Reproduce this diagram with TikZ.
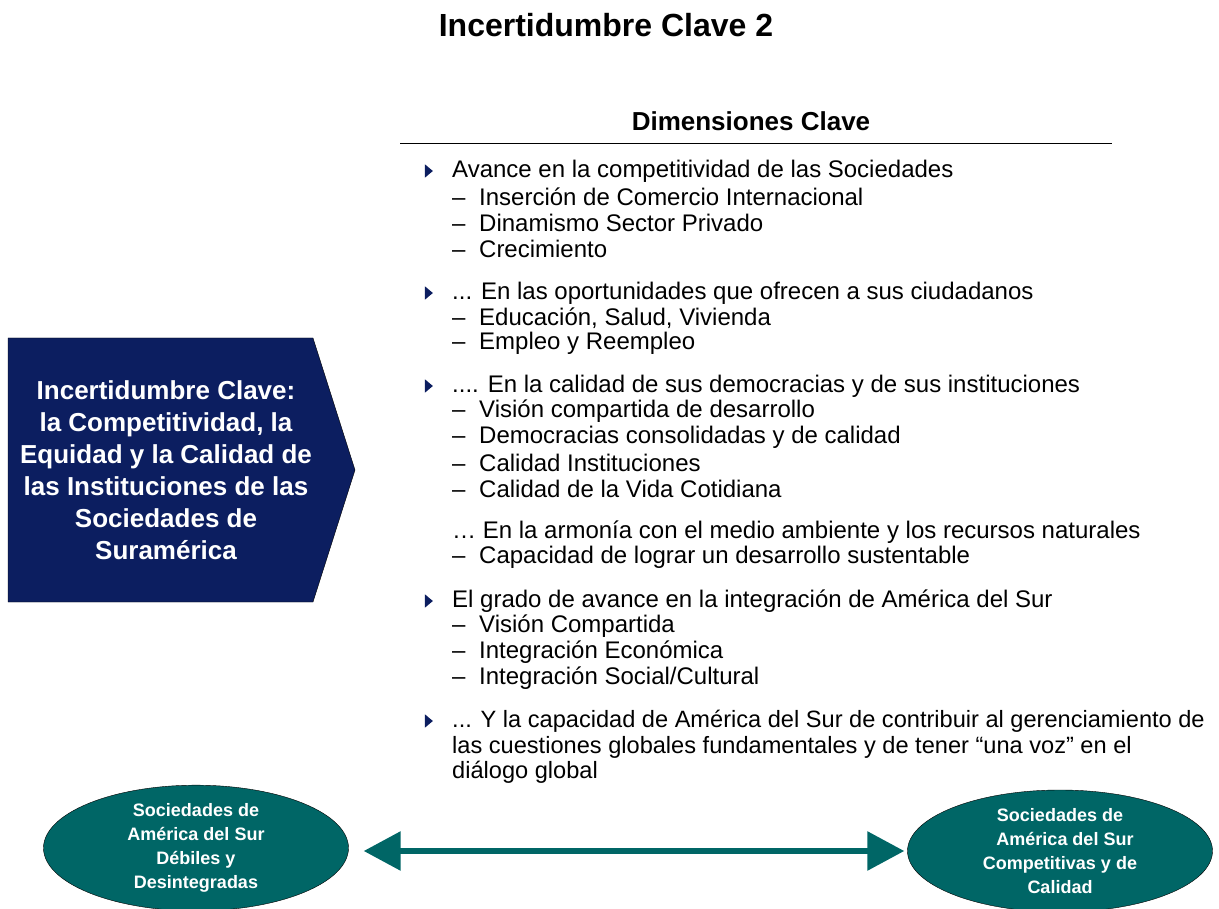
\documentclass[tikz,border=0pt]{standalone}
\usepackage{fontspec}
\setmainfont{Liberation Sans}
\usetikzlibrary{shapes.geometric,arrows.meta,positioning}
\definecolor{boxnavy}{RGB}{12,30,96}
\definecolor{ovalteal}{RGB}{0,102,102}
\newcommand{\sub}{\makebox[27pt][l]{–}}

\begin{document}
\begin{tikzpicture}[x=1pt,y=-1pt,
    txt/.style={anchor=west,inner sep=0pt,font=\fontsize{24}{28}\selectfont},
    bul/.style={isosceles triangle,isosceles triangle apex angle=80,fill=boxnavy,
      inner sep=0pt,minimum height=8pt,minimum width=12pt},
    oval/.style={ellipse,draw=black,fill=ovalteal,text=white,align=center,
      font=\bfseries\fontsize{18}{24}\selectfont,minimum width=305pt,minimum height=122pt,inner sep=0pt}]
    \useasboundingbox (0,0) rectangle (1219,909);
    % title and header
    \node [font=\bfseries\fontsize{32}{36}\selectfont] (title) at (606,25) {Incertidumbre Clave 2};
    \node [font=\bfseries\fontsize{26}{30}\selectfont] (dims) at (751,121) {Dimensiones Clave};
    \coordinate (L0) at (400,143);
    \coordinate (L1) at (1112,143);
      \draw (L0) -- (L1);
    % left arrow box
    \coordinate (P0) at (8,338);
    \coordinate (P1) at (313,338);
    \coordinate (P2) at (355,470);
    \coordinate (P3) at (313,602);
    \coordinate (P4) at (8,602);
      \draw [fill=boxnavy] (P0) -- (P1) -- (P2) -- (P3) -- (P4) -- cycle;
      \node [text=white,align=center,font=\bfseries\fontsize{26}{32}\selectfont] (key) at (166,470)
        {Incertidumbre Clave:\\la Competitividad, la\\Equidad y la Calidad de\\las Instituciones de las\\Sociedades de\\Suramérica};
    % list
      \node [bul] (b1) at (428,171) {};
      \node [txt] (t1) at (452,171) {Avance en la competitividad de las Sociedades};
      \node [txt] (t11) at (452,197) {\sub Inserción de Comercio Internacional};
      \node [txt] (t12) at (452,223) {\sub Dinamismo Sector Privado};
      \node [txt] (t13) at (452,249) {\sub Crecimiento};
      \node [bul] (b2) at (428,293) {};
      \node [txt] (t2) at (452,293) {... En las oportunidades que ofrecen a sus ciudadanos};
      \node [txt] (t21) at (452,318) {\sub Educación, Salud, Vivienda};
      \node [txt] (t22) at (452,343) {\sub Empleo y Reempleo};
      \node [bul] (b3) at (428,386) {};
      \node [txt] (t3) at (452,386) {.... En la calidad de sus democracias y de sus instituciones};
      \node [txt] (t31) at (452,411) {\sub Visión compartida de desarrollo};
      \node [txt] (t32) at (452,437) {\sub Democracias consolidadas y de calidad};
      \node [txt] (t33) at (452,463) {\sub Calidad Instituciones};
      \node [txt] (t34) at (452,489) {\sub Calidad de la Vida Cotidiana};
      \node [txt] (t4) at (452,532) {… En la armonía con el medio ambiente y los recursos naturales};
      \node [txt] (t41) at (452,557) {\sub Capacidad de lograr un desarrollo sustentable};
      \node [bul] (b5) at (428,601) {};
      \node [txt] (t5) at (452,601) {El grado de avance en la integración de América del Sur};
      \node [txt] (t51) at (452,626) {\sub Visión Compartida};
      \node [txt] (t52) at (452,652) {\sub Integración Económica};
      \node [txt] (t53) at (452,678) {\sub Integración Social/Cultural};
      \node [bul] (b6) at (428,721) {};
      \node [txt,font=\fontsize{23.6}{28}\selectfont] (t6) at (452,721) {... Y la capacidad de América del Sur de contribuir al gerenciamiento de};
      \node [txt,font=\fontsize{23.6}{28}\selectfont] (t6b) at (452,747) {las cuestiones globales fundamentales y de tener “una voz” en el};
      \node [txt,font=\fontsize{23.6}{28}\selectfont] (t6c) at (452,772) {diálogo global};
    % ovals and double arrow
      \node [oval] (weak) at (196,848) {Sociedades de\\América del Sur\\Débiles y\\Desintegradas};
      \node [oval] (strong) at (1060,851) {Sociedades de\\\ \ América del Sur\\Competitivas y de\\Calidad};
      \draw [ovalteal,line width=6pt,{Triangle[width=38pt,length=37pt]}-{Triangle[width=38pt,length=37pt]},
        shorten <=15pt,shorten >=3pt] (weak.east |- 0,851) -- (strong.west |- 0,851);
  \end{tikzpicture}
\end{document}
